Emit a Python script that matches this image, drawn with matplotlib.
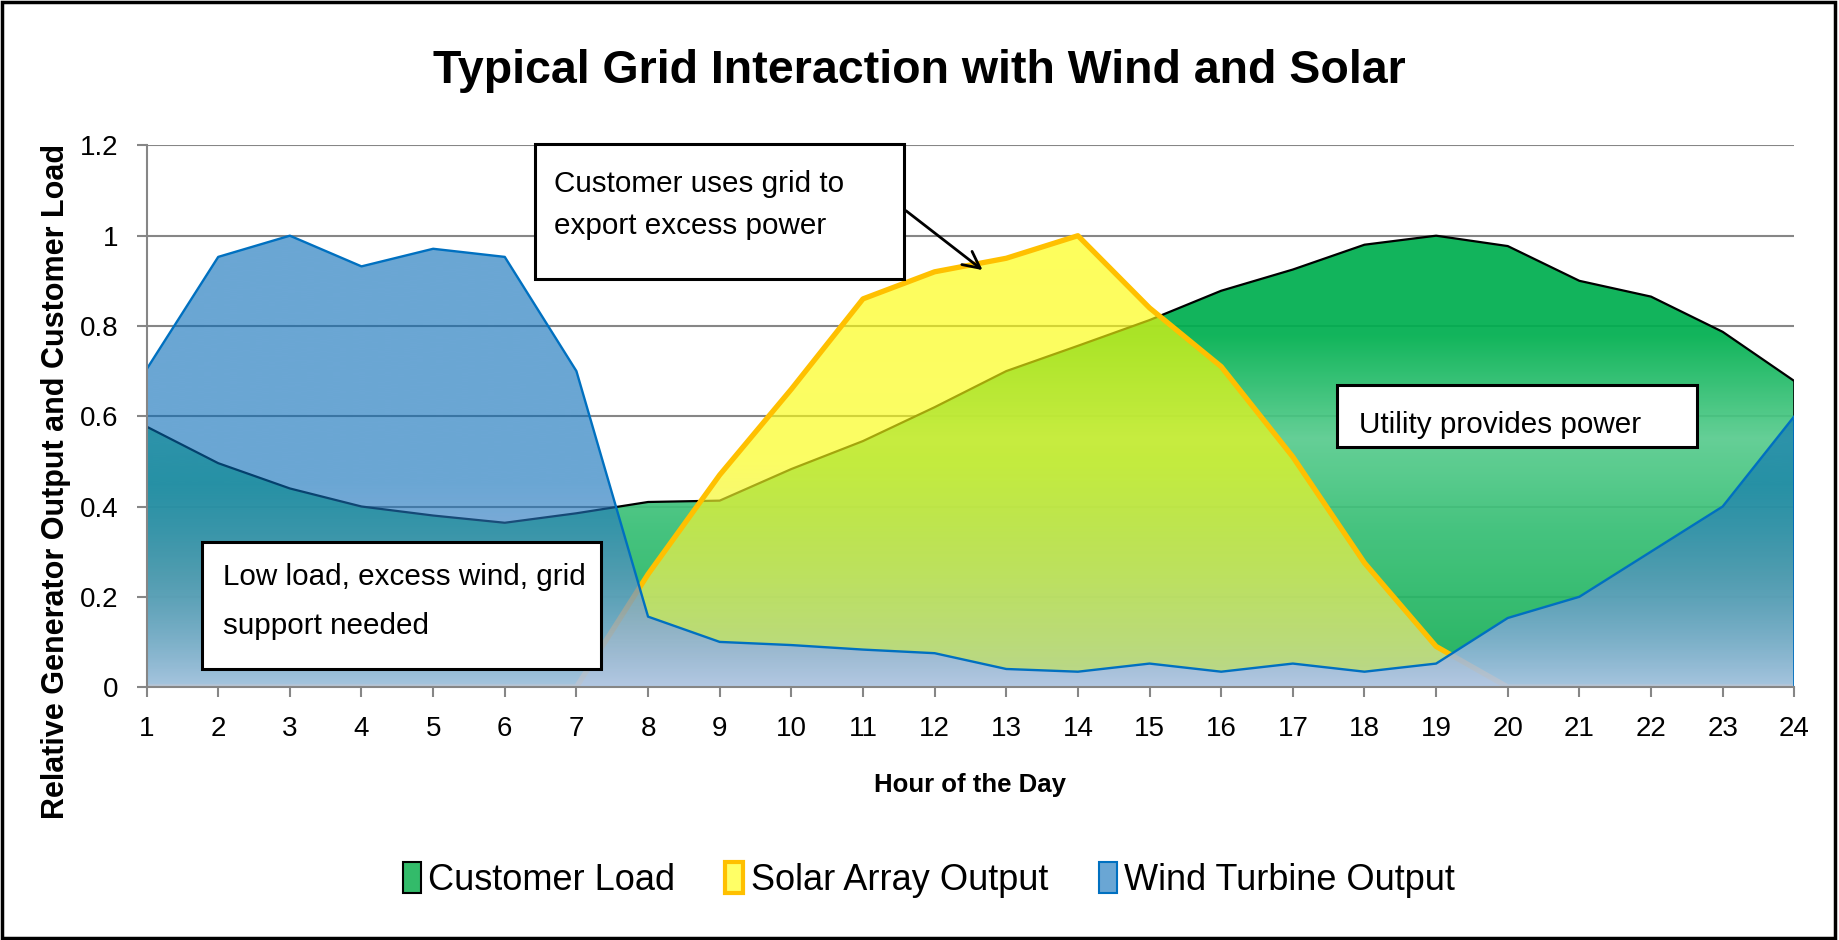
import numpy as np
import matplotlib
matplotlib.use('Agg')
import matplotlib.pyplot as plt
from matplotlib.patches import Rectangle, Patch
from matplotlib.colors import to_rgba

# hourly values (relative units)
hours = list(range(1, 25))
customer_load = [0.577, 0.496, 0.44, 0.40, 0.38, 0.364, 0.385, 0.41, 0.413, 0.483, 0.545, 0.62,
                 0.70, 0.756, 0.813, 0.878, 0.925, 0.98, 1.0, 0.977, 0.90, 0.865, 0.787, 0.678]
solar_output = [0, 0, 0, 0, 0, 0, 0, 0.25, 0.47, 0.66, 0.86, 0.92,
                0.95, 1.0, 0.84, 0.71, 0.51, 0.275, 0.09, 0, 0, 0, 0, 0]
wind_output = [0.704, 0.953, 1.0, 0.932, 0.971, 0.953, 0.70, 0.156, 0.10, 0.093, 0.083, 0.075,
               0.04, 0.034, 0.052, 0.034, 0.052, 0.034, 0.052, 0.153, 0.20, 0.30, 0.40, 0.60]
y_ticks = [0, 0.2, 0.4, 0.6, 0.8, 1.0, 1.2]
y_tick_labels = ['0', '0.2', '0.4', '0.6', '0.8', '1', '1.2']
series_names = ['Customer Load', 'Solar Array Output', 'Wind Turbine Output']

plt.rcParams['font.family'] = ['Liberation Sans', 'DejaVu Sans']


def gradient_area(ax, x, y, stops, z):
    # area under y, coloured by height (stops = (level, rgba) going up)
    poly = ax.fill_between(x, 0, y, facecolor='none', edgecolor='none', zorder=z)
    lv = np.linspace(0, 1.2, 400)
    pos = [p for p, _ in stops]
    cols = np.array([to_rgba(c[:3], c[3]) for _, c in stops])
    img = np.zeros((len(lv), 1, 4))
    for k in range(4):
        img[:, 0, k] = np.interp(lv, pos, cols[:, k])
    im = ax.imshow(img, extent=[x[0], x[-1], 0, 1.2], origin='lower', aspect='auto',
                   interpolation='bilinear', zorder=z)
    im.set_clip_path(poly.get_paths()[0], ax.transData)


fig = plt.figure(figsize=(18.39, 9.40), dpi=100)
ax = fig.add_axes([0.0797, 0.2691, 0.896, 0.5762])

green = [(0.0, (0.08, 0.68, 0.33, 0.93)),
         (0.35, (0.22, 0.75, 0.46, 0.93)),
         (0.55, (0.35, 0.80, 0.56, 0.93)),
         (0.78, (0.0, 0.69, 0.31, 0.93)),
         (1.2, (0.0, 0.69, 0.31, 0.93))]
yellow = [(0.0, (0.88, 0.88, 0.60, 0.80)),
          (0.5, (0.98, 0.99, 0.08, 0.66)),
          (1.2, (1.0, 1.0, 0.0, 0.65))]
blue = [(0.0, (0.70, 0.78, 0.92, 0.92)),
        (0.25, (0.35, 0.55, 0.80, 0.68)),
        (0.45, (0.03, 0.42, 0.72, 0.60)),
        (1.2, (0.03, 0.42, 0.72, 0.60))]

gradient_area(ax, hours, customer_load, green, 1)
ax.plot(hours + [24], customer_load + [0], color='black', lw=1.6, zorder=1.1)

gradient_area(ax, hours, solar_output, yellow, 2)
ax.plot(hours, solar_output, color='#ffc000', lw=3.8, zorder=2.1, solid_joinstyle='round')

gradient_area(ax, hours, wind_output, blue, 3)
ax.plot(hours + [24], wind_output + [0], color='#0070c0', lw=1.7, zorder=3.1)

ax.set_xlim(1, 24)
ax.set_ylim(0, 1.2)
ax.set_xticks(hours)
ax.set_xticklabels([str(h) for h in hours], fontsize=20)
ax.set_yticks(y_ticks)
ax.set_yticklabels(y_tick_labels, fontsize=20)
ax.tick_params(axis='x', length=7, width=1.5, color='#868686', pad=14)
ax.tick_params(axis='y', length=7, width=1.5, color='#868686', pad=13)
ax.grid(axis='y', color='#868686', lw=1.5)
ax.set_axisbelow(True)
for s in ['top', 'right']:
    ax.spines[s].set_visible(False)
for s in ['left', 'bottom']:
    ax.spines[s].set_color('#868686')
    ax.spines[s].set_linewidth(1.5)
    ax.spines[s].set_zorder(4)

ax.set_xlabel('Hour of the Day', fontsize=18.5, fontweight='bold')
ax.xaxis.set_label_coords(0.5, -0.158)
ax.set_ylabel('Relative Generator Output and Customer Load', fontsize=22, fontweight='bold')
ax.yaxis.set_label_coords(-0.046, 0.38)

fig.text(0.5, 0.924, 'Typical Grid Interaction with Wind and Solar', ha='center', va='center',
         fontsize=33.5, fontweight='bold')

# callout boxes
boxes = [((6.42, 0.904), 5.15, 0.299, 'Customer uses grid to\nexport excess power', (6.69, 1.068), 1.65),
         ((1.77, 0.041), 5.57, 0.281, 'Low load, excess wind, grid\nsupport needed', (2.07, 0.19), 1.95),
         ((17.62, 0.532), 5.02, 0.137, 'Utility provides power', (17.93, 0.581), 1.2)]
for (x0, y0), w, h, txt, (tx, ty), ls in boxes:
    ax.add_patch(Rectangle((x0, y0), w, h, facecolor='white', edgecolor='black', lw=2.2,
                           zorder=5, clip_on=False))
    ax.text(tx, ty, txt, ha='left', va='center', fontsize=21.3, linespacing=ls, zorder=6)

ax.annotate('', xy=(12.7, 0.92), xytext=(11.57, 1.059), zorder=6,
            arrowprops=dict(arrowstyle='->', color='black', lw=2, mutation_scale=30))

handles = [Patch(facecolor='#33bb6a', edgecolor='black', lw=1.5),
           Patch(facecolor='#ffff66', edgecolor='#ffc000', lw=3),
           Patch(facecolor='#6aa6d4', edgecolor='#0070c0', lw=1.5)]
fig.legend(handles, series_names, loc='center', bbox_to_anchor=(0.505, 0.064), ncol=3,
           frameon=False, fontsize=26, handlelength=0.5, handleheight=0.95,
           handletextpad=0.2, columnspacing=1.4)

fig.add_artist(Rectangle((0.001, 0.002), 0.997, 0.996, transform=fig.transFigure,
                         facecolor='none', edgecolor='black', lw=2.5))

fig.savefig('out.png', dpi=100)
